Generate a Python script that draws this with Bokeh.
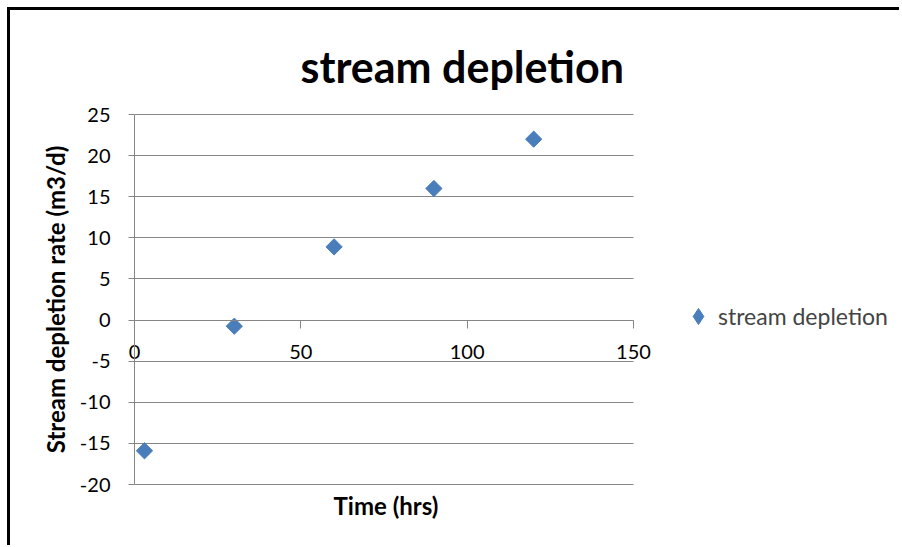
from bokeh.plotting import figure
from bokeh.models import (Range1d, FixedTicker, Legend, LegendItem, Title,
                          NumeralTickFormatter, Div)
from bokeh.layouts import column, row
from bokeh.embed import file_html
from bokeh.resources import INLINE

# ---- data ----
time_hrs = [3, 30, 60, 90, 120]
depletion = [-15.9, -0.75, 8.9, 16.0, 22.0]
x_ticks = [0, 50, 100, 150]
y_ticks = [-20, -15, -10, -5, 0, 5, 10, 15, 20, 25]
series_name = "stream depletion"
title_text = "stream depletion"
x_label = "Time (hrs)"
y_label = "Stream depletion rate (m3/d)"

GRID = "#868686"
BLUE = "#4A7EBB"
FONT = "Lato"

# ---- layout (page pixels) ----
OX, OY = 10, 10                    # canvas origin
W, H = 889, 535
F_L, F_R, F_T, F_B = 20, 899, 100, 493   # frame box
X0_PX, X150_PX = 134, 633          # where x=0 and x=150 sit
Y25_PX, YM20_PX = 114, 484         # where y=25 and y=-20 sit

xs = (X150_PX - X0_PX) / 150.0
ys = (YM20_PX - Y25_PX) / 45.0
x_start = (F_L - X0_PX) / xs
x_end = (F_R - X0_PX) / xs
y_end = 25 + (Y25_PX - F_T) / ys
y_start = -20 - (F_B - YM20_PX) / ys

p = figure(width=W, height=H, output_backend="svg", toolbar_location=None,
           x_range=Range1d(x_start, x_end), y_range=Range1d(y_start, y_end),
           frame_width=F_R - F_L, frame_height=F_B - F_T,
           min_border_left=F_L - OX, min_border_top=F_T - OY,
           min_border_right=OX + W - F_R, min_border_bottom=OY + H - F_B)
p.outline_line_color = None
p.background_fill_color = "white"
p.border_fill_color = "white"

p.title.text = title_text
p.title.text_font = FONT
p.title.text_font_style = "bold"
p.title.text_font_size = "43px"
p.title.text_color = "black"
p.title.align = "left"
p.title.offset = 280
p.title.standoff = 17

# y axis at x = 0
ya = p.yaxis[0]
ya.fixed_location = 0
ya.bounds = (-20, 25)
ya.ticker = FixedTicker(ticks=y_ticks)
ya.formatter = NumeralTickFormatter(format="0")
ya.axis_label = y_label
ya.axis_label_text_font = FONT
ya.axis_label_text_font_style = "bold"
ya.axis_label_text_font_size = "24px"
ya.axis_label_text_color = "black"
ya.axis_label_text_baseline = "middle"
ya.axis_label_standoff = 7
ya.major_label_text_font = FONT
ya.major_label_text_font_size = "20px"
ya.major_label_text_color = "black"
ya.major_label_standoff = 18
ya.axis_line_color = GRID
ya.major_tick_line_color = GRID
ya.major_tick_out = 6
ya.major_tick_in = 0
ya.minor_tick_line_color = None

# x axis crossing at y = 0
xa = p.xaxis[0]
xa.fixed_location = 0
xa.bounds = (0, 150)
xa.ticker = FixedTicker(ticks=x_ticks)
xa.formatter = NumeralTickFormatter(format="0")
xa.major_label_text_font = FONT
xa.major_label_text_font_size = "20px"
xa.major_label_text_color = "black"
xa.major_label_standoff = 17
xa.axis_line_color = GRID
xa.major_tick_line_color = GRID
xa.major_tick_out = 8
xa.major_tick_in = 0
xa.minor_tick_line_color = None

p.add_layout(Title(text=x_label, text_font=FONT, text_font_style="bold",
                   text_font_size="24px", text_color="black", align="left",
                   offset=313, standoff=-9), "below")

p.xgrid.grid_line_color = None
p.ygrid.ticker = FixedTicker(ticks=y_ticks)
p.ygrid.bounds = (-20, 25)
p.ygrid.cross_bounds = (0, 150)
p.ygrid.grid_line_color = GRID
p.ygrid.grid_line_width = 1

r = p.scatter(time_hrs, depletion, marker="square", size=11.5, angle=0.785398,
              fill_color=BLUE, line_color=BLUE)
# legend key: same series drawn as a diamond, hidden in the plot
# (legend keys are never rotated, so the rotated square cannot be reused)
r_key = p.scatter(time_hrs, depletion, marker="diamond", fill_color=BLUE,
                  line_color=BLUE, visible=False)

legend = Legend(items=[LegendItem(label=series_name, renderers=[r_key])],
                location=(658, F_B - 336), padding=0, margin=0,
                border_line_color=None, background_fill_alpha=0,
                glyph_width=40, glyph_height=40, label_standoff=0,
                label_text_font=FONT, label_text_font_size="23px",
                label_height=40)
p.add_layout(legend)

# chart-area frame: black edge on the left and top
top_bar = Div(width=W + 3, height=3, margin=0,
              styles={"background-color": "black"})
left_bar = Div(width=3, height=H, margin=0,
               styles={"background-color": "black"})
root = column(top_bar, row(left_bar, p, spacing=0, margin=0), spacing=0,
              margin=0, styles={"margin-left": "7px", "margin-top": "7px"})

open("out.html", "w").write(file_html(root, INLINE))
